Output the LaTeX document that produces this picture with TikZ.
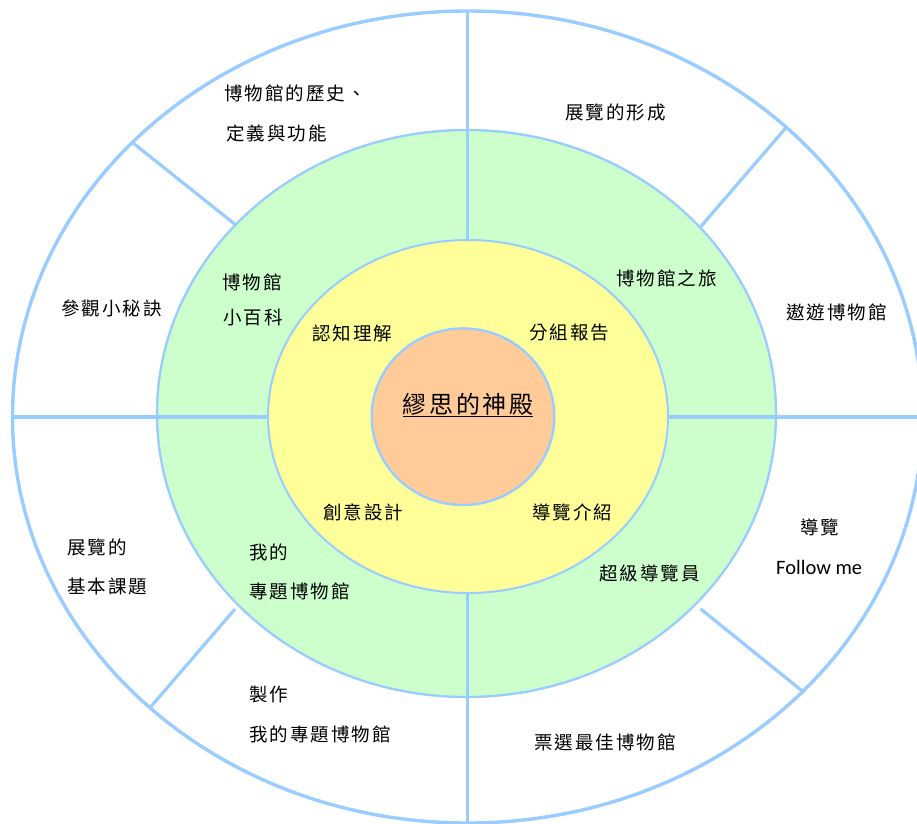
\documentclass[tikz,border=0pt]{standalone}
\usepackage{fontspec}
\newfontfamily\cjk[LetterSpace=11]{Noto Sans CJK TC}
\newfontfamily\latf{Carlito}
\definecolor{lineblue}{RGB}{153,204,255}
\definecolor{ringgreen}{RGB}{204,255,204}
\definecolor{ringyellow}{RGB}{255,255,153}
\definecolor{coreorange}{RGB}{255,204,153}
\tikzset{
  txt/.style={font=\cjk\fontsize{18.5}{21}\selectfont, inner sep=0pt, anchor=west, text=black},
  ttl/.style={font=\cjk\fontsize{24}{27}\selectfont, inner sep=0pt, anchor=center, text=black},
  lat/.style={font=\latf\fontsize{20.5}{23}\selectfont, inner sep=0pt, anchor=west, text=black},
  ring/.style={draw=lineblue, line width=2pt},
  divider/.style={draw=lineblue, line width=3.2pt},
}
\begin{document}
\begin{tikzpicture}[x=1pt,y=-1pt]
\useasboundingbox (0,0) rectangle (917,823);
\clip (0,0) rectangle (917,823);
\fill[white] (0,0) rectangle (917,823);
% rings
\path[fill=white, draw=lineblue, line width=3.4pt] (467.5,417) ellipse [x radius=455, y radius=406];
\path[ring, fill=ringgreen] (466.5,413.5) ellipse [x radius=309.5, y radius=283.5];
% dividers in the outer and green rings
\coordinate (hl) at (12.5,417);
\coordinate (hr) at (920,417);
\coordinate (vt) at (467.5,11);
\coordinate (vb) at (467.5,826);
\coordinate (yl) at (268,417);
\coordinate (yr) at (668,417);
\coordinate (yt) at (467.5,240);
\coordinate (yb) at (467.5,593);
\draw[divider] (hl) -- (yl);
\draw[divider] (yr) -- (hr);
\draw[divider] (vt) -- (yt);
\draw[divider] (yb) -- (vb);
\coordinate (ulo) at (132.7,142.7);
\coordinate (uli) at (235,224.3);
\coordinate (uro) at (786,127.7);
\coordinate (uri) at (700.7,226.7);
\coordinate (llo) at (150,707.7);
\coordinate (lli) at (235,609);
\coordinate (lro) at (804.3,692.7);
\coordinate (lri) at (700.7,609);
\draw[divider] (ulo) -- (uli);
\draw[divider] (uro) -- (uri);
\draw[divider] (llo) -- (lli);
\draw[divider] (lro) -- (lri);
% redraw green ring border on top of the line ends
\path[ring] (466.5,413.5) ellipse [x radius=309.5, y radius=283.5];
\path[ring, fill=ringyellow] (468,416.5) ellipse [x radius=200, y radius=176.5];
\path[ring, fill=coreorange, line width=2.4pt] (463,416.7) ellipse [x radius=91.3, y radius=88.3];
% texts: outer ring
\node[txt] (o1a) at (224,93) {博物館的歷史、};
\node[txt] (o1b) at (226,133) {定義與功能};
\node[txt] (o2) at (565,112) {展覽的形成};
\node[txt] (o3) at (61,308) {參觀小秘訣};
\node[txt] (o4) at (786,312) {遨遊博物館};
\node[txt] (o5a) at (67,547) {展覽的};
\node[txt] (o5b) at (67,586) {基本課題};
\node[txt] (o6a) at (800,527) {導覽};
\node[lat] (o6b) at (776,567) {Follow me};
\node[txt] (o7a) at (249,694) {製作};
\node[txt] (o7b) at (249,734) {我的專題博物館};
\node[txt] (o8) at (534,742) {票選最佳博物館};
% green ring
\node[txt] (g1a) at (222,282) {博物館};
\node[txt] (g1b) at (223,317) {小百科};
\node[txt] (g2) at (616,278) {博物館之旅};
\node[txt] (g3a) at (249,552) {我的};
\node[txt] (g3b) at (249,591) {專題博物館};
\node[txt] (g4) at (599,573) {超級導覽員};
% yellow ring
\node[txt] (y1) at (312,333) {認知理解};
\node[txt] (y2) at (529,333) {分組報告};
\node[txt] (y3) at (323,512) {創意設計};
\node[txt] (y4) at (532,512) {導覽介紹};
% core
\node[ttl] (core) at (468,405) {\underline{繆思的神殿}};
\end{tikzpicture}
\end{document}
